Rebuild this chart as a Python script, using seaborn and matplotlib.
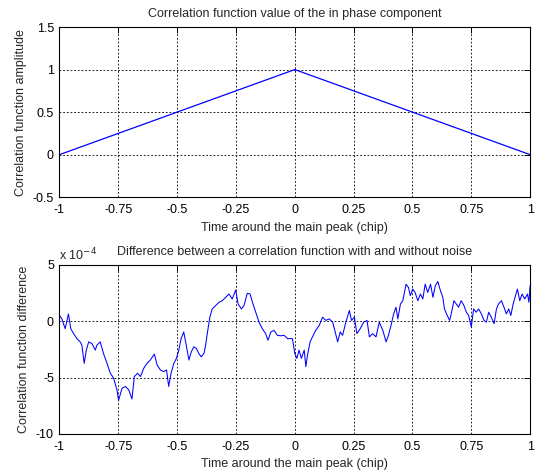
import numpy as np
import pandas as pd
import seaborn as sns
import matplotlib.pyplot as plt

# top panel: ideal correlation triangle
t_top = [-1.0, 0.0, 1.0]
amp_top = [0.0, 1.0, 0.0]

# bottom panel: difference (units of 1e-4)
t_diff = [-1.000, -0.990, -0.976, -0.962, -0.952, -0.940, -0.926, -0.912, -0.905, -0.895,
          -0.886, -0.876, -0.862, -0.848, -0.841, -0.827, -0.813, -0.798, -0.784, -0.770,
          -0.756, -0.749, -0.734, -0.720, -0.706, -0.692, -0.682, -0.668, -0.656, -0.642,
          -0.628, -0.614, -0.597, -0.585, -0.571, -0.557, -0.545, -0.536, -0.526, -0.514,
          -0.503, -0.493, -0.483, -0.472, -0.460, -0.450, -0.440, -0.429, -0.418, -0.408,
          -0.398, -0.386, -0.379, -0.372, -0.361, -0.351, -0.337, -0.322, -0.308, -0.294,
          -0.280, -0.266, -0.251, -0.241, -0.227, -0.216, -0.202, -0.190, -0.180, -0.166,
          -0.152, -0.138, -0.124, -0.114, -0.102, -0.088, -0.074, -0.060, -0.045, -0.031,
          -0.010, 0.000, 0.009, 0.018, 0.028, 0.040, 0.047, 0.054, 0.065, 0.075,
          0.089, 0.104, 0.118, 0.132, 0.146, 0.161, 0.170, 0.182, 0.193, 0.203,
          0.217, 0.232, 0.241, 0.253, 0.264, 0.278, 0.293, 0.307, 0.317, 0.331,
          0.345, 0.359, 0.374, 0.388, 0.398, 0.409, 0.420, 0.430, 0.438, 0.449,
          0.459, 0.473, 0.483, 0.491, 0.501, 0.511, 0.523, 0.534, 0.544, 0.554,
          0.565, 0.577, 0.587, 0.597, 0.608, 0.619, 0.629, 0.636, 0.648, 0.658,
          0.668, 0.676, 0.686, 0.696, 0.707, 0.719, 0.729, 0.739, 0.750, 0.760,
          0.771, 0.781, 0.793, 0.804, 0.814, 0.824, 0.835, 0.847, 0.857, 0.866,
          0.878, 0.889, 0.899, 0.909, 0.918, 0.928, 0.938, 0.946, 0.956, 0.966,
          0.977, 0.989, 0.995, 1.000]
diff_e4 = [0.50, 0.20, -0.67, 0.64, -0.67, -1.11, -1.55, -1.84, -2.13, -3.74,
           -2.57, -1.84, -1.99, -2.57, -2.13, -1.84, -2.87, -3.74, -4.62, -5.06,
           -6.08, -7.02, -5.94, -5.79, -6.08, -6.90, -4.91, -4.62, -4.91, -4.18,
           -3.74, -3.45, -2.92, -3.89, -4.33, -4.47, -4.33, -5.79, -4.62, -3.74,
           -3.30, -2.57, -1.55, -0.96, -2.28, -3.45, -2.72, -2.28, -2.43, -2.87,
           -3.16, -2.87, -2.13, -1.11, 0.35, 1.08, 1.37, 1.67, 1.81, 2.11,
           2.40, 1.96, 2.75, 1.52, 1.08, 1.37, 2.46, 2.40, 1.67, 0.79,
           -0.09, -0.67, -1.11, -1.70, -0.96, -0.82, -1.26, -1.30, -1.26, -1.55,
           -1.55, -2.87, -3.30, -2.57, -3.30, -2.57, -4.04, -3.01, -1.84, -1.40,
           -0.82, -0.38, 0.35, 0.06, 0.20, -0.09, -0.82, -1.84, -0.96, -1.26,
           -0.09, 0.94, 0.06, 0.35, -1.11, -0.67, -0.09, 0.06, -1.40, -1.11,
           -1.40, -0.09, -0.82, -1.84, -1.26, -0.38, 0.64, 1.23, 0.20, 1.52,
           1.81, 3.27, 2.98, 2.25, 2.84, 2.54, 1.81, 2.40, 1.96, 3.27,
           2.54, 3.27, 2.11, 3.13, 3.51, 2.69, 2.11, 1.08, 0.50, 0.06,
           0.94, 1.81, 1.52, 1.23, 1.81, 1.37, 0.79, 0.50, -0.53, 1.08,
           0.79, 1.08, 0.64, 0.06, -0.09, 0.79, 0.35, -0.23, 1.08, 1.52,
           1.81, 1.23, 0.64, 1.08, 0.50, 1.52, 2.25, 2.84, 1.81, 2.40,
           1.96, 2.40, 1.67, 3.13]

x_ticks = [-1, -0.75, -0.5, -0.25, 0, 0.25, 0.5, 0.75, 1]
x_ticklabels = ['-1', '-0.75', '-0.5', '-0.25', '0', '0.25', '0.5', '0.75', '1']

sns.set_style('white')
plt.rcParams['font.family'] = ['Liberation Sans', 'DejaVu Sans']
fs = 9

fig = plt.figure(figsize=(5.36, 4.74), dpi=100)
ax1 = fig.add_axes([0.111, 0.584, 0.878, 0.359])
ax2 = fig.add_axes([0.111, 0.0844, 0.878, 0.3572])

top = pd.DataFrame({'t': t_top, 'amp': amp_top})
bot = pd.DataFrame({'t': t_diff, 'd': diff_e4})

sns.lineplot(data=top, x='t', y='amp', ax=ax1, color='#0000ff', linewidth=0.9,
             estimator=None, sort=False)
sns.lineplot(data=bot, x='t', y='d', ax=ax2, color='#0000ff', linewidth=0.75,
             estimator=None, sort=False)

for ax in (ax1, ax2):
    ax.set_xlim(-1, 1)
    ax.set_xticks(x_ticks)
    ax.set_xticklabels(x_ticklabels)
    ax.grid(True, color='black', linestyle=(0, (2.2, 2.2)), linewidth=0.6)
    ax.tick_params(direction='in', length=4, width=0.7, top=True, right=True,
                   labelsize=fs, colors='black')
    ax.tick_params(axis='x', pad=5)
    ax.tick_params(axis='y', pad=4)
    for s in ax.spines.values():
        s.set_color('black')
        s.set_linewidth(0.8)
    ax.set_xlabel('Time around the main peak (chip)', fontsize=fs, labelpad=4)

ax1.set_ylim(-0.5, 1.5)
ax1.set_yticks([-0.5, 0, 0.5, 1, 1.5])
ax1.set_yticklabels(['-0.5', '0', '0.5', '1', '1.5'])
ax1.set_ylabel('Correlation function amplitude', fontsize=fs, labelpad=4)
ax1.set_title('Correlation function value of the in phase component', fontsize=fs, pad=7)

ax2.set_ylim(-10, 5)
ax2.set_yticks([-10, -5, 0, 5])
ax2.set_yticklabels(['-10', '-5', '0', '5'])
ax2.set_ylabel('Correlation function difference', fontsize=fs, labelpad=4)
ax2.set_title('Difference between a correlation function with and without noise',
              fontsize=fs, pad=7)
ax2.text(0.0, 1.01, 'x 10$^{-4}$', transform=ax2.transAxes, fontsize=fs,
         ha='left', va='bottom')

fig.savefig('out.png', dpi=100)
